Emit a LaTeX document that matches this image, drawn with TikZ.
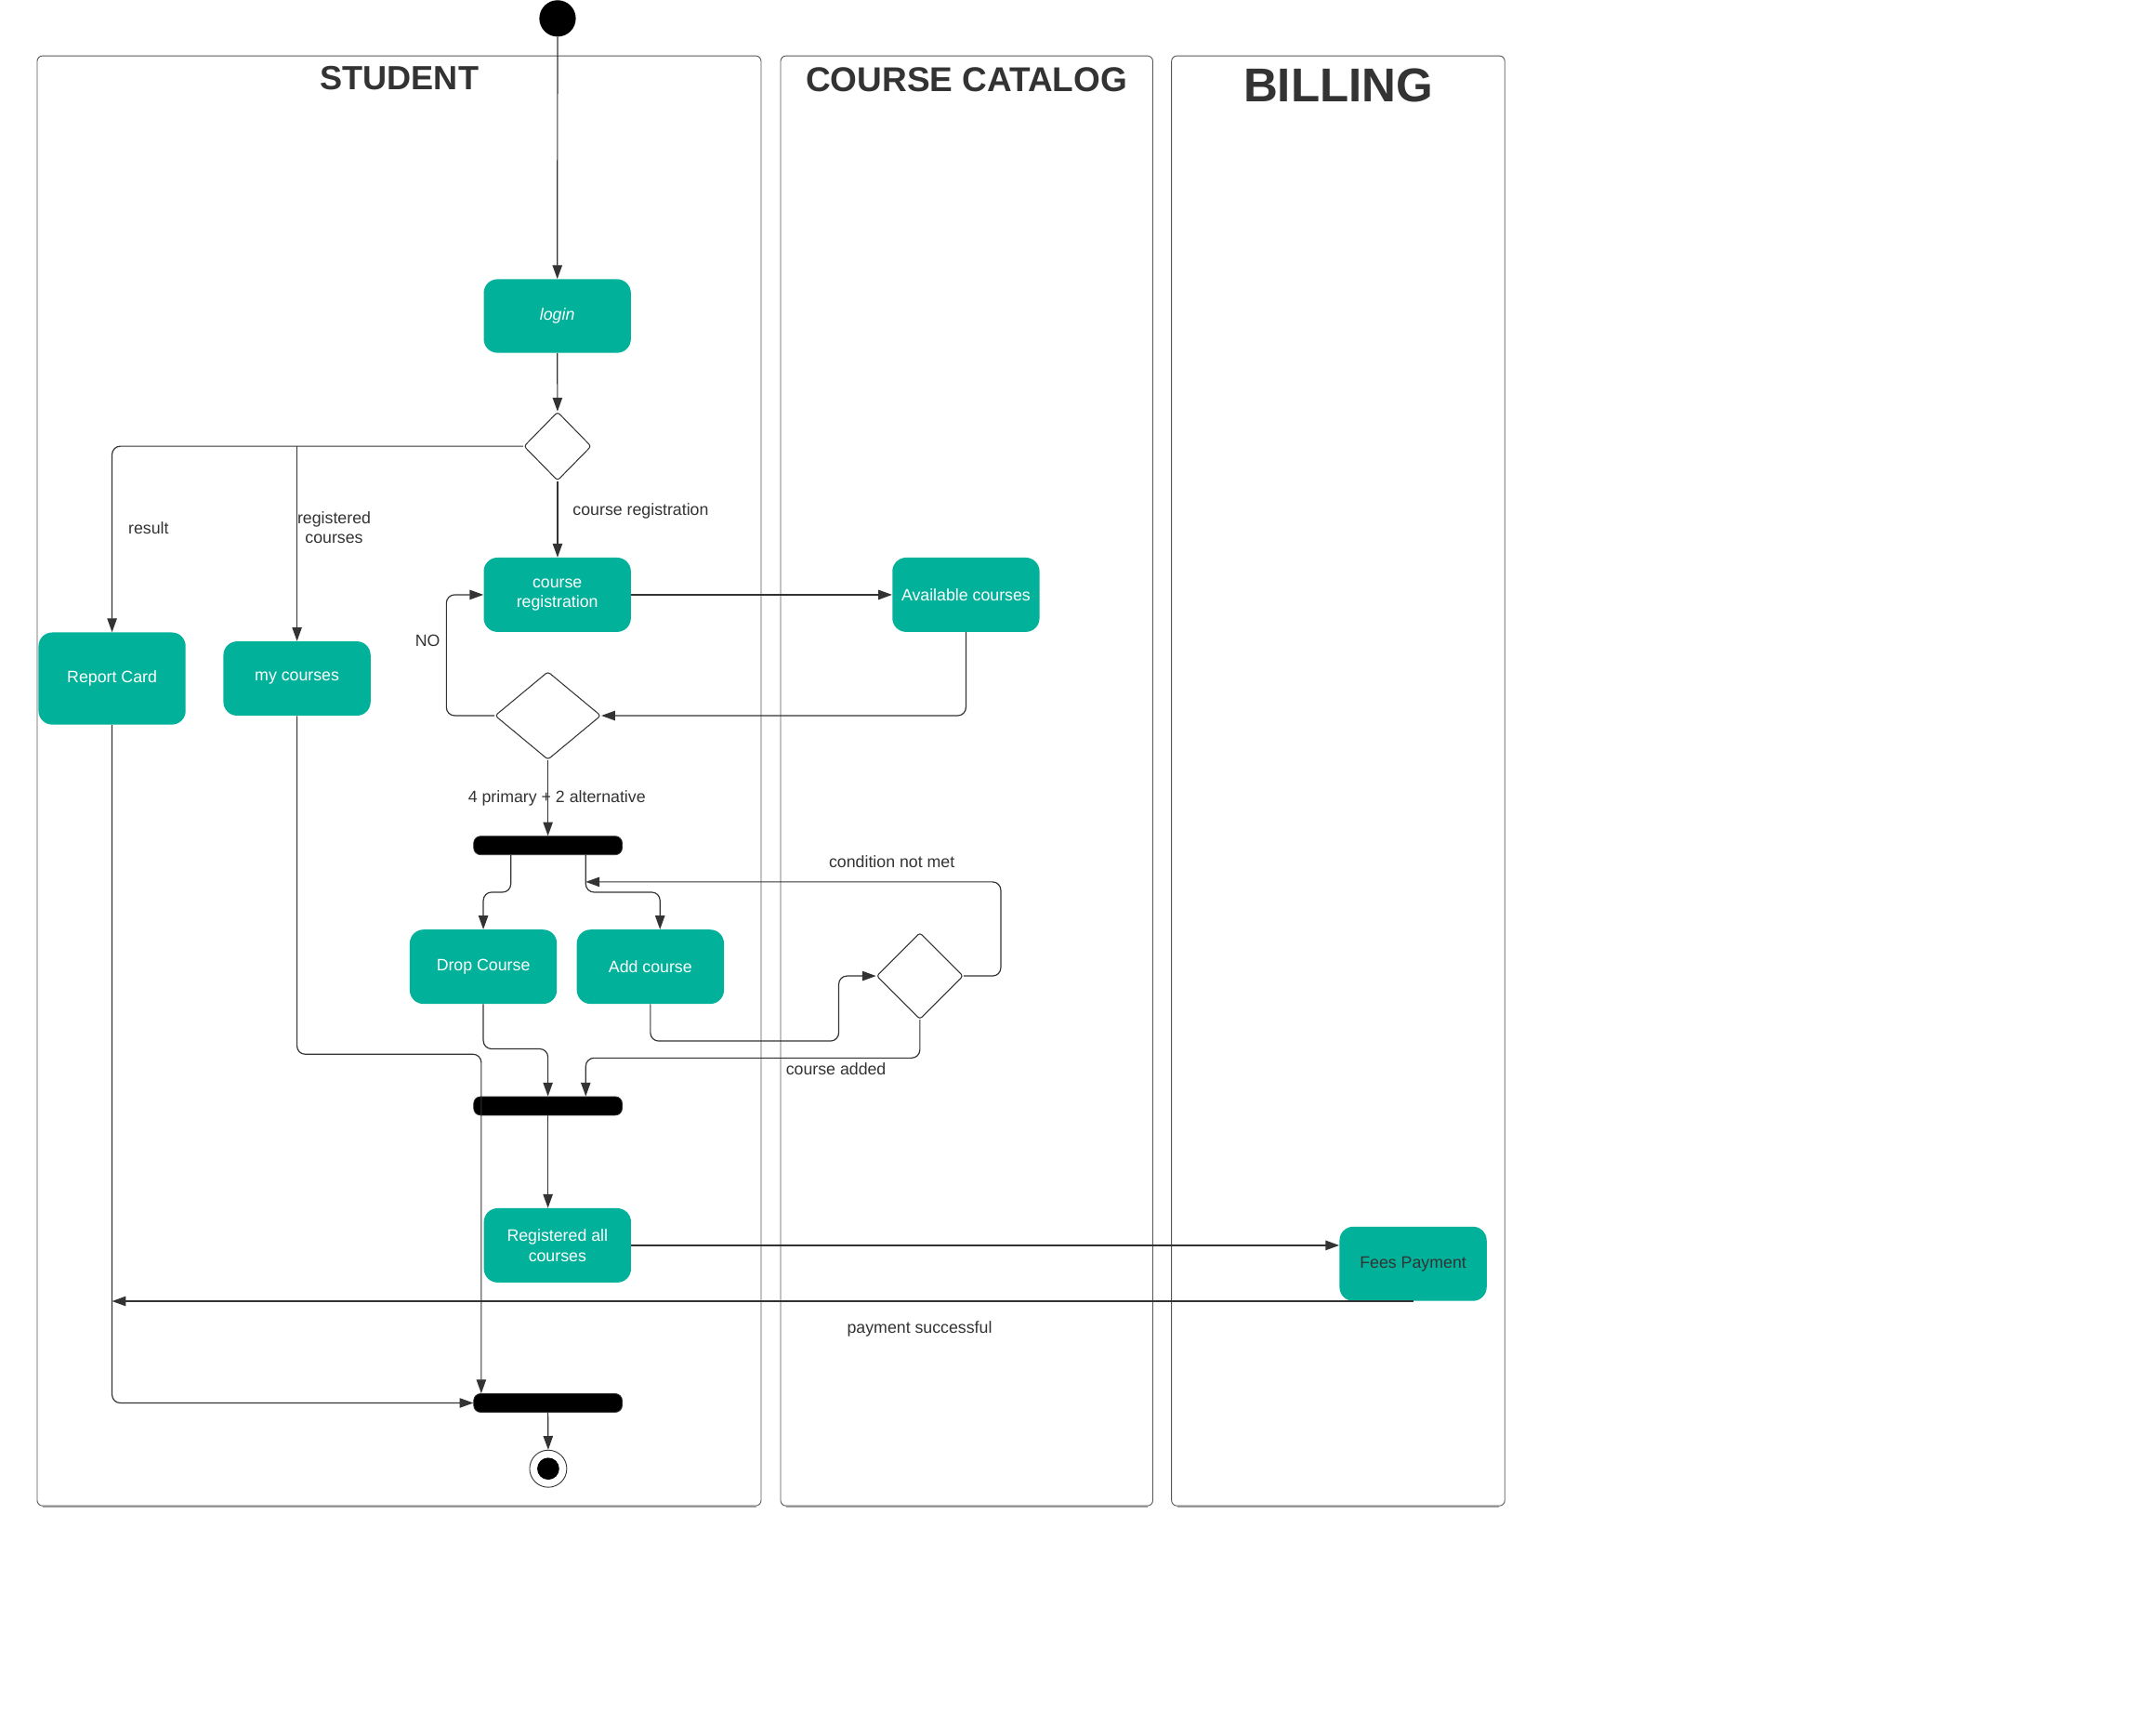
\documentclass[tikz,border=0pt]{standalone}
\usepackage{fontspec}
\setmainfont{Liberation Sans}
\usetikzlibrary{shapes.geometric,arrows.meta,calc}
\definecolor{teal1}{RGB}{2,177,154}
\definecolor{ink}{HTML}{333333}
\definecolor{lanegray}{HTML}{555555}
\definecolor{shadowgray}{HTML}{A0A0A0}
\begin{document}
\begin{tikzpicture}[x=1pt,y=-1pt,
  every node/.style={font=\fontsize{12}{14.5}\selectfont, text=ink, inner sep=0pt},
  act/.style={fill=teal1, rounded corners=10pt, minimum width=107pt, minimum height=54pt, text=white, align=center},
  dec/.style={diamond, draw=ink, fill=white, line width=0.7pt, rounded corners=2pt},
  bar/.style={fill=black, draw=ink, line width=0.5pt, rounded corners=5pt, minimum width=108pt, minimum height=13.5pt},
  arr/.style={draw=ink, line width=0.8pt, -{Triangle[length=10pt,width=7pt]}},
  lane/.style={draw=lanegray, line width=0.6pt, rounded corners=4pt},
  laneshadow/.style={draw=shadowgray, line width=0.8pt},
  title/.style={font=\bfseries\fontsize{24.4}{28}\selectfont, text=ink, anchor=base}]
\useasboundingbox (0,0) rectangle (1568,1254);
\fill[white] (0,0) rectangle (1568,1254);

% lanes (with a faint shadow along the bottom)
\draw[laneshadow] (31,1095.7) -- (550,1095.7);
\draw[laneshadow] (571.7,1095.7) -- (834.4,1095.7);
\draw[laneshadow] (856,1095.7) -- (1090.4,1095.7);
\draw[lane] (27,40.6) rectangle (553.5,1095);
\draw[lane] (567.7,40.6) rectangle (838.4,1095);
\draw[lane] (852,40.6) rectangle (1094.4,1095);
\node[title] (tstudent) at (290.5,65.5) {STUDENT};
\node[title, font=\bfseries\fontsize{25}{30}\selectfont] (tcat) at (703,66.8) {COURSE CATALOG};
\node[title, font=\bfseries\fontsize{34.5}{40}\selectfont] (tbill) at (973.3,74) {BILLING};

% nodes
\node[circle, fill=black, minimum size=26.5pt] (start) at (405.5,13.4) {};
\node[act, font=\itshape\fontsize{12}{14.5}\selectfont, minimum height=53.5pt] (login) at (405.3,229.8) {login};
\node[dec, minimum width=49pt, minimum height=50pt] (d1) at (405.5,324.5) {};
\node[act] (creg) at (405.3,432.5) {course\\registration};
\node[act] (avail) at (702.5,432.5) {Available courses};
\node[act, minimum height=67pt] (report) at (81.5,493.4) {Report Card};
\node[act] (mycourses) at (216,493.4) {my courses};
\node[dec, minimum width=77pt, minimum height=64pt] (d2) at (398.5,520.4) {};
\node[bar] (fork1) at (398.5,614.8) {};
\node[act] (drop) at (351.5,703) {Drop Course};
\node[act] (add) at (473,703) {Add course};
\node[dec, minimum width=63pt, minimum height=63pt] (d3) at (669,709.7) {};
\node[bar] (join2) at (398.5,804.2) {};
\node[act] (regall) at (405.4,905.6) {Registered all\\courses};
\node[act, text=ink] (fees) at (1027.7,919) {Fees Payment};
\node[bar] (join3) at (398.5,1020.2) {};
\node[circle, draw=ink, fill=white, line width=0.6pt, minimum size=27pt] (end) at (398.7,1068) {};
\node[circle, fill=black, minimum size=16pt] (enddot) at (end) {};
\coordinate (cnm) at (426,641.3);

% connectors
\draw[arr] (start) -- (login);
\draw[arr] (login) -- (d1);
\draw[arr, rounded corners=6pt] (d1.west) -| (report.north);
\draw[arr] (d1.west -| mycourses.north) -- (mycourses.north);
\draw[arr] (d1.south) -- (d1.south |- creg.north);
\draw[arr, line width=1pt] (creg.east) -- (avail.west);
\draw[arr, rounded corners=6pt] (avail.south) |- (d2.east);
\draw[arr, rounded corners=6pt] (d2.west) -- ++(-35,0) |- (creg.west);
\draw[arr] (d2.south) -- (fork1.north);
\draw[arr, rounded corners=6pt] ([xshift=-27pt]fork1.south) -- ++(0,27) -| (drop.north);
\draw[arr, rounded corners=6pt] ([xshift=27.5pt]fork1.south) -- ++(0,27) -| ([xshift=7pt]add.north);
\draw[arr, rounded corners=6pt] (add.south) |- (610,757) |- (d3.west);
\draw[arr, rounded corners=6pt] (d3.east) -- ++(27,0) |- (cnm);
\draw[arr, rounded corners=6pt] (d3.south) -- ++(0,27.8) -| ([xshift=27.5pt]join2.north);
\draw[arr, rounded corners=6pt] (drop.south) -- ++(0,32.5) -| (join2.north);
\draw[arr, rounded corners=6pt] (mycourses.south) -- ++(0,246) -| ([xshift=-48.5pt]join3.north);
\draw[arr] (join2.south) -- (join2.south |- regall.north);
\draw[arr, line width=1.1pt] (regall.east) -- (regall.east -| fees.west);
\draw[arr, line width=1.1pt] (fees.south) -- (fees.south -| report.south);
\draw[arr, rounded corners=6pt] (report.south) |- (join3.west);
\draw[arr] (join3.south) -- (end.north);

% labels
\node (lresult) at (108,384) {result};
\node[align=center] (lreg) at (243,383.5) {registered\\courses};
\node (lcreg) at (466,371.5) {course registration};
\node (lno) at (311,465.6) {NO};
\node (l4p) at (405,580.6) {4 primary + 2 alternative};
\node (lcnm) at (648.6,626.6) {condition not met};
\node (lca) at (608,777) {course added};
\node (lps) at (668.8,966.5) {payment successful};
\end{tikzpicture}
\end{document}
